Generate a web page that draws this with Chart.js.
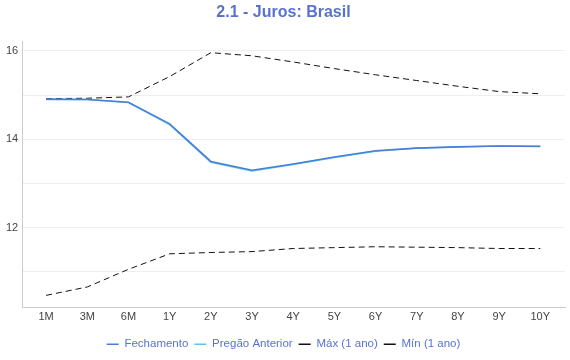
<!DOCTYPE html>
<html>
<head>
<meta charset="utf-8">
<script src="https://cdn.jsdelivr.net/npm/chart.js@4.4.0/dist/chart.umd.min.js"></script>
<style>
  html, body { margin: 0; padding: 0; background: #fff; }
  #wrap { position: relative; width: 570px; height: 360px; }
</style>
</head>
<body>
<div id="wrap"><canvas id="chart"></canvas></div>
<script>
// vertices of the curve
const prazos = ['1M', '3M', '6M', '1Y', '2Y', '3Y', '4Y', '5Y', '6Y', '7Y', '8Y', '9Y', '10Y'];
const fechamento = [14.91, 14.90, 14.84, 14.35, 13.50, 13.30, 13.44, 13.60, 13.74, 13.80, 13.83, 13.85, 13.84];
const pregaoAnterior = [14.90, 14.90, 14.83, 14.33, 13.48, 13.28, 13.43, 13.59, 13.73, 13.80, 13.83, 13.85, 13.84];
const max1ano = [14.92, 14.93, 14.96, 15.42, 15.96, 15.89, 15.75, 15.60, 15.46, 15.33, 15.20, 15.08, 15.03];
const min1ano = [10.47, 10.66, 11.06, 11.41, 11.44, 11.46, 11.53, 11.55, 11.57, 11.56, 11.55, 11.53, 11.53];
const yLabels = [12, 14, 16];

const FONT = "'Liberation Sans', Arial, Helvetica, sans-serif";
const TITLE_BLUE = '#5873cf';

const pts = arr => arr.map((v, i) => ({ x: i, y: v }));

function lineSet(label, values, color, dash, width) {
  return {
    label,
    data: pts(values),
    borderColor: color,
    backgroundColor: color,
    borderWidth: width,
    borderDash: dash,
    pointRadius: 0,
    pointHoverRadius: 0,
    tension: 0,
    fill: false
  };
}

new Chart(document.getElementById('chart'), {
  type: 'line',
  data: {
    datasets: [
      lineSet('Fechamento', fechamento, '#4a7fd6', [], 1.6),
      lineSet('Pregão Anterior', pregaoAnterior, '#62c3ea', [], 1.4),
      lineSet('Máx (1 ano)', max1ano, '#111111', [6, 4], 1),
      lineSet('Mín (1 ano)', min1ano, '#111111', [6, 4], 1)
    ]
  },
  options: {
    responsive: true,
    maintainAspectRatio: false,
    animation: false,
    layout: { padding: { left: 2, right: 5, top: 0, bottom: 0 } },
    plugins: {
      title: {
        display: true,
        text: '2.1 - Juros: Brasil',
        color: TITLE_BLUE,
        font: { family: FONT, size: 16, weight: 'bold' },
        padding: { top: 3, bottom: 19 }
      },
      legend: {
        position: 'bottom',
        labels: {
          usePointStyle: true,
          pointStyle: 'line',
          pointStyleWidth: 12,
          boxWidth: 17,
          boxHeight: 8,
          padding: 6,
          color: '#5873cf',
          font: { family: FONT, size: 11.5 },
          generateLabels: chart =>
            Chart.defaults.plugins.legend.labels.generateLabels(chart).map(l => ({
              ...l,
              lineWidth: 1.5,
              lineDash: l.lineDash && l.lineDash.length ? [6, 3] : []
            }))
        }
      },
      tooltip: { enabled: false }
    },
    scales: {
      x: {
        type: 'linear',
        min: -0.58,
        max: 12.6,
        grid: { display: false, drawTicks: false },
        border: { display: true, color: '#cccccc', width: 1 },
        ticks: {
          stepSize: 1,
          autoSkip: false,
          includeBounds: false,
          padding: 3,
          color: '#444444',
          font: { family: FONT, size: 11 },
          callback: v => prazos[v] ?? ''
        },
        afterBuildTicks: axis => {
          axis.ticks = prazos.map((_, i) => ({ value: i }));
        },
        afterFit: axis => { axis.height += 6; }
      },
      y: {
        min: 10.2,
        max: 16.22,
        grid: { color: '#eeeeee', drawTicks: false },
        border: { display: true, color: '#cccccc', width: 1 },
        ticks: {
          stepSize: 1,
          includeBounds: false,
          padding: 4,
          color: '#444444',
          font: { family: FONT, size: 11 },
          callback: v => yLabels.includes(v) ? String(v) : ''
        }
      }
    }
  }
});
</script>
</body>
</html>
